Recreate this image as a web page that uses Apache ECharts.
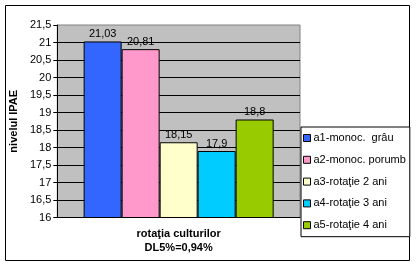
<!DOCTYPE html>
<html><head><meta charset="utf-8">
<script src="https://cdn.jsdelivr.net/npm/echarts@6/dist/echarts.min.js"></script>
<style>html,body{margin:0;padding:0;background:#fff}#c{width:416px;height:266px}</style>
</head><body><div id="c"></div>
<script>
const categories = ['rotaţia culturilor\nDL5%=0,94%'];
const seriesNames = ['a1-monoc.  grâu','a2-monoc. porumb','a3-rotaţie 2 ani','a4-rotaţie 3 ani','a5-rotaţie 4 ani'];
const seriesValues = [21.03, 20.81, 18.15, 17.9, 18.8];
const colors = ['#3366FF','#FF99CC','#FFFFCC','#00CCFF','#99CC00'];
const yMin = 16, yMax = 21.5, yStep = 0.5;
const fmt = v => String(v).replace('.', ',');
const font = 'Liberation Sans, Arial, sans-serif';

const chart = echarts.init(document.getElementById('c'), null, {renderer:'canvas'});
chart.setOption({
  animation:false,
  textStyle:{fontFamily:font},
  graphic:[{type:'rect',shape:{x:5.5,y:5.5,width:404,height:255},style:{fill:null,stroke:'#000',lineWidth:1},z:-10}],
  grid:{left:52,top:25,width:248,height:192.5,show:true,backgroundColor:'#C0C0C0',borderColor:'#808080',borderWidth:1},
  legend:{
    orient:'vertical',left:301,top:127,
    data:seriesNames,
    itemWidth:7,itemHeight:7,itemGap:10.8,
    padding:[5.5,4,6,2],
    borderColor:'#000',borderWidth:1,backgroundColor:'#fff',
    icon:'rect',
    textStyle:{fontSize:11,color:'#000',fontFamily:font,padding:[0,0,0,-2]},
    itemStyle:{borderColor:'#000',borderWidth:1}
  },
  xAxis:{
    type:'category',data:categories,
    axisLine:{lineStyle:{color:'#000',width:1}},
    axisTick:{show:false},
    axisLabel:{margin:9,fontSize:11,fontWeight:'bold',color:'#000',lineHeight:14.5,fontFamily:font}
  },
  yAxis:{
    type:'value',min:yMin,max:yMax,interval:yStep,
    name:'nivelul IPAE',nameLocation:'middle',nameGap:31,
    nameTextStyle:{fontSize:11,fontWeight:'bold',color:'#000',fontFamily:font},
    axisLine:{show:true,lineStyle:{color:'#000',width:1}},
    axisTick:{show:true,length:4,lineStyle:{color:'#000'}},
    axisLabel:{formatter:fmt,fontSize:11,color:'#000',margin:6,fontFamily:font},
    splitLine:{show:true,showMaxLine:false,lineStyle:{color:'#000',width:1}}
  },
  series: seriesNames.map((n,i)=>({
    name:n,type:'bar',data:[seriesValues[i]],
    barWidth:38,barGap:'0%',
    itemStyle:{color:colors[i],borderColor:'#000',borderWidth:1},
    label:{show:true,position:'top',distance:2,formatter:p=>fmt(p.value),fontSize:11,color:'#000',fontFamily:font}
  }))
});
</script></body></html>
